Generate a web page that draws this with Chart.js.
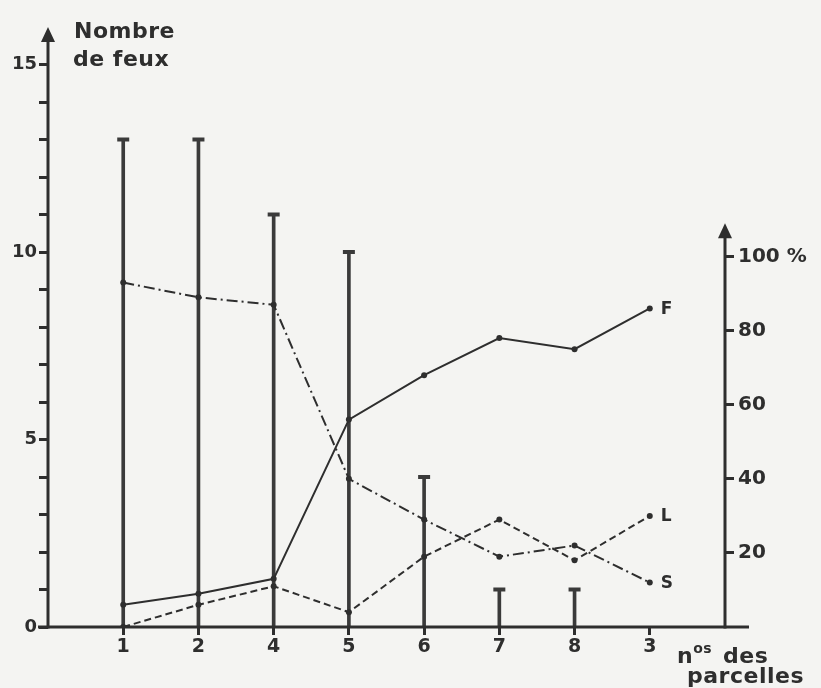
<!DOCTYPE html>
<html lang="fr">
<head>
<meta charset="utf-8">
<title>Nombre de feux et composition par parcelle</title>
<script src="https://cdn.jsdelivr.net/npm/chart.js@4.4.1/dist/chart.umd.min.js"></script>
<style>
  html, body { margin: 0; padding: 0; background: #f4f4f2; }
  #wrap { width: 821px; height: 688px; position: relative; }
  canvas { display: block; }
</style>
</head>
<body>
<div id="wrap"><canvas id="chart" width="821" height="688"></canvas></div>
<script>
// Parcelles, in the order they are plotted
const parcelles = ['1', '2', '4', '5', '6', '7', '8', '3'];

// Number of fires per parcel (left axis)
const nombreFeux = [13, 13, 11, 10, 4, 1, 1, 0];

// Percentages per parcel (right axis)
const partF = [6, 9, 13, 56, 68, 78, 75, 86];
const partL = [0, 6, 11, 4, 19, 29, 18, 30];
const partS = [93, 89, 87, 40, 29, 19, 22, 12];

// Axis ticks
const feuxTicks = [0, 1, 2, 3, 4, 5, 6, 7, 8, 9, 10, 11, 12, 13, 14, 15];
const feuxLabelled = [0, 5, 10, 15];
const pctTicks = [20, 40, 60, 80, 100];
const pctLabels = ['20', '40', '60', '80', '100 %'];

const INK = '#2e2e2e';
const FONT = '"DejaVu Sans", sans-serif';

const points = vals => vals.map((v, i) => ({ x: i + 1, y: v }));

// Axis lines with arrow heads, axis titles and end-of-line letters
const decor = {
  id: 'decor',
  afterDraw(chart) {
    const { ctx, chartArea: a, scales } = chart;
    const y0 = scales.y.getPixelForValue(0);
    ctx.save();
    ctx.strokeStyle = INK;
    ctx.fillStyle = INK;
    ctx.lineWidth = 3;
    ctx.lineCap = 'butt';

    const seg = (x1, y1, x2, y2) => { ctx.beginPath(); ctx.moveTo(x1, y1); ctx.lineTo(x2, y2); ctx.stroke(); };
    const arrow = (x, tip) => {
      ctx.beginPath();
      ctx.moveTo(x, tip);
      ctx.lineTo(x - 7, tip + 15);
      ctx.lineTo(x + 7, tip + 15);
      ctx.closePath();
      ctx.fill();
    };

    // horizontal axis, running a little past the right-hand axis
    seg(a.left - 10, y0, a.right + 24, y0);
    // left axis (number of fires)
    seg(a.left, y0 + 1.5, a.left, a.top + 10);
    arrow(a.left, a.top);
    // right axis (percentages) stops just above 100 %
    const rTip = scales.y2.getPixelForValue(109);
    seg(a.right, y0 + 1.5, a.right, rTip + 10);
    arrow(a.right, rTip);

    // left axis title
    ctx.font = `bold 22px ${FONT}`;
    ctx.letterSpacing = '0.5px';
    ctx.textBaseline = 'alphabetic';
    ctx.textAlign = 'left';
    ctx.fillText('Nombre', a.left + 26, 38);
    ctx.fillText('de feux', a.left + 25, 66);

    // horizontal axis title: n°s des / parcelles
    let x = a.right - 48;
    const base = y0 + 36;
    ctx.fillText('n', x, base);
    x += ctx.measureText('n').width;
    ctx.font = `bold 14px ${FONT}`;
    ctx.fillText('os', x, base - 10);
    x += ctx.measureText('os').width + 11;
    ctx.font = `bold 22px ${FONT}`;
    ctx.fillText('des', x, base);
    ctx.fillText('parcelles', a.right - 38, base + 20);

    // series letters at the end of each percentage line
    ctx.font = `bold 17px ${FONT}`;
    ctx.letterSpacing = '0px';
    ctx.textBaseline = 'middle';
    chart.data.datasets.forEach((ds, i) => {
      if (!ds.endLabel) return;
      const pts = chart.getDatasetMeta(i).data;
      const last = pts[pts.length - 1];
      ctx.fillText(ds.endLabel, last.x + 11, last.y + 1);
    });
    ctx.restore();
  }
};

const lineStyle = (label, vals, dash) => ({
  type: 'line',
  label: label,
  endLabel: label,
  data: points(vals),
  xAxisID: 'x',
  yAxisID: 'y2',
  borderColor: INK,
  borderWidth: 2,
  borderDash: dash,
  pointRadius: 3,
  pointBackgroundColor: INK,
  pointBorderColor: INK,
  pointBorderWidth: 0,
  tension: 0,
  fill: false,
  order: 1
});

new Chart(document.getElementById('chart'), {
  type: 'bar',
  data: {
    datasets: [
      {
        type: 'bar',
        label: 'Nombre de feux',
        data: points(nombreFeux),
        xAxisID: 'x',
        yAxisID: 'y',
        backgroundColor: '#3a3a3a',
        barThickness: 3,
        borderWidth: 0,
        order: 3
      },
      {
        type: 'scatter',
        label: 'Nombre de feux (sommet)',
        data: points(nombreFeux),
        xAxisID: 'x',
        yAxisID: 'y',
        pointStyle: 'line',
        pointRadius: c => (c.raw && c.raw.y > 0 ? 6 : 0),
        borderColor: '#3a3a3a',
        borderWidth: 4,
        showLine: false,
        order: 2
      },
      lineStyle('F', partF, []),
      lineStyle('L', partL, [7, 4]),
      lineStyle('S', partS, [11, 4, 2, 4])
    ]
  },
  options: {
    responsive: false,
    animation: false,
    devicePixelRatio: 1,
    layout: { padding: { top: 27, left: 0, right: 0, bottom: 0 } },
    plugins: { legend: { display: false }, tooltip: { enabled: false } },
    scales: {
      x: {
        type: 'linear',
        position: 'bottom',
        offset: false,
        min: 0,
        max: parcelles.length + 1,
        afterBuildTicks: s => { s.ticks = parcelles.map((p, i) => ({ value: i + 1 })); },
        afterFit: s => { s.height = 61; },
        ticks: {
          color: INK,
          padding: 1,
          font: { family: FONT, size: 19, weight: 'bold' },
          callback: v => parcelles[v - 1]
        },
        grid: { offset: false, drawOnChartArea: false, drawTicks: true, tickLength: 8, tickWidth: 3, tickColor: INK },
        border: { display: false }
      },
      y: {
        type: 'linear',
        position: 'left',
        min: 0,
        max: 16,
        afterBuildTicks: s => { s.ticks = feuxTicks.map(v => ({ value: v })); },
        afterFit: s => { s.width = 48; },
        ticks: {
          color: INK,
          padding: 2,
          font: { family: FONT, size: 18, weight: 'bold' },
          callback: v => (feuxLabelled.includes(v) ? String(v) : '')
        },
        grid: { drawOnChartArea: false, drawTicks: true, tickLength: 9, tickWidth: 3, tickColor: INK },
        border: { display: false }
      },
      y2: {
        type: 'linear',
        position: 'right',
        min: 0,
        max: 162,
        afterBuildTicks: s => { s.ticks = pctTicks.map(v => ({ value: v })); },
        afterFit: s => { s.width = 96; },
        ticks: {
          color: INK,
          padding: 4,
          font: { family: FONT, size: 20, weight: 'bold' },
          callback: v => pctLabels[pctTicks.indexOf(v)]
        },
        grid: { drawOnChartArea: false, drawTicks: true, tickLength: 9, tickWidth: 3, tickColor: INK },
        border: { display: false }
      }
    }
  },
  plugins: [decor]
});
</script>
</body>
</html>
